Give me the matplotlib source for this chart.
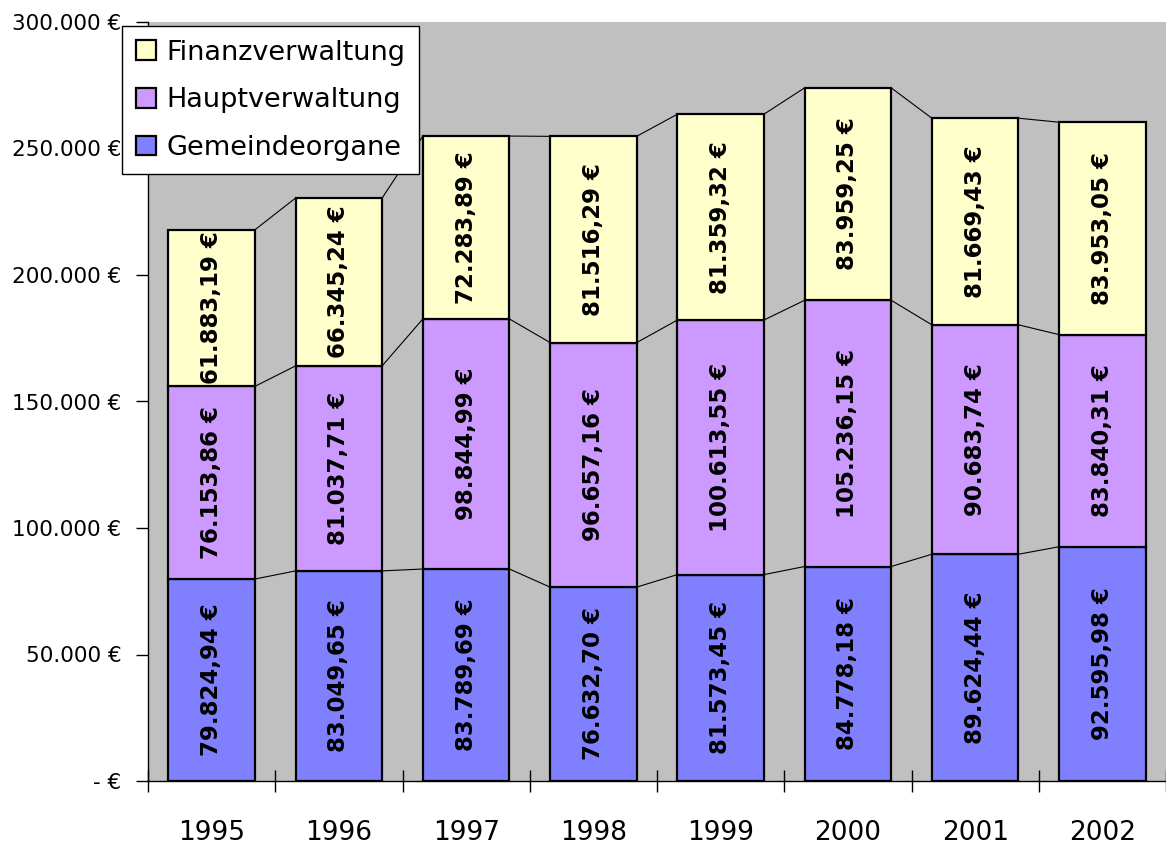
import matplotlib
matplotlib.use('Agg')
import matplotlib.pyplot as plt
import numpy as np

years = ['1995', '1996', '1997', '1998', '1999', '2000', '2001', '2002']
gemeindeorgane = [79824.94, 83049.65, 83789.69, 76632.70, 81573.45, 84778.18, 89624.44, 92595.98]
hauptverwaltung = [76153.86, 81037.71, 98844.99, 96657.16, 100613.55, 105236.15, 90683.74, 83840.31]
finanzverwaltung = [61883.19, 66345.24, 72283.89, 81516.29, 81359.32, 83959.25, 81669.43, 83953.05]

series = [('Gemeindeorgane', gemeindeorgane, '#8080FF'),
          ('Hauptverwaltung', hauptverwaltung, '#CC99FF'),
          ('Finanzverwaltung', finanzverwaltung, '#FFFFCC')]


def euro(v):
    s = '{:,.2f}'.format(v)
    s = s.replace(',', 'X').replace('.', ',').replace('X', '.')
    return s + ' €'


def axis_euro(v, pos=None):
    if v == 0:
        return '- €'
    return '{:,.0f}'.format(v).replace(',', '.') + ' €'


fig = plt.figure(figsize=(11.66, 8.47), dpi=100)
ax = fig.add_axes([148 / 1166, 66 / 847, 1 - 148 / 1166, (781 - 22) / 847])
ax.set_facecolor('#C0C0C0')

x = np.arange(len(years))
width = 0.68
bottom = np.zeros(len(years))
handles = []
for name, vals, col in series:
    vals = np.array(vals)
    b = ax.bar(x, vals, width, bottom=bottom, color=col, edgecolor='black',
               linewidth=1.6, label=name, zorder=3)
    handles.append(b)
    for xi, v, bt in zip(x, vals, bottom):
        ax.text(xi, bt + v / 2, euro(v), rotation=90, ha='center', va='center',
                fontsize=16.5, fontweight='bold', zorder=4)
    top = bottom + vals
    # series lines between bars
    for i in range(len(years) - 1):
        ax.plot([x[i] + width / 2, x[i + 1] - width / 2], [top[i], top[i + 1]],
                color='black', linewidth=0.8, zorder=2)
    bottom = top

ax.set_xlim(-0.5, len(years) - 0.5)
ax.set_ylim(0, 300000)
ax.set_yticks(np.arange(0, 300001, 50000))
ax.yaxis.set_major_formatter(matplotlib.ticker.FuncFormatter(axis_euro))
ax.set_xticks(np.arange(-0.5, len(years), 1.0))
ax.set_xticklabels([])
ax.set_xticks(x, minor=True)
ax.set_xticklabels(years, minor=True, fontsize=19)
ax.tick_params(axis='x', which='minor', length=0, pad=28)
ax.tick_params(axis='x', which='major', direction='inout', length=16, width=1)
ax.tick_params(axis='y', direction='out', length=9, width=1, labelsize=15.5, pad=10)

for s in ['top', 'right']:
    ax.spines[s].set_visible(False)
ax.spines['left'].set_linewidth(1)
ax.spines['bottom'].set_linewidth(1)

leg = ax.legend(handles[::-1], [s[0] for s in series][::-1], loc='upper left',
                bbox_to_anchor=(122 / 1166, 1 - 26 / 847),
                bbox_transform=fig.transFigure, fontsize=19.5, frameon=True,
                fancybox=False, edgecolor='black', framealpha=1,
                handlelength=0.75, handleheight=0.75, handletextpad=0.4,
                borderpad=0.5, labelspacing=0.8, borderaxespad=0)
leg.get_frame().set_linewidth(1)
leg.set_zorder(10)

fig.savefig('out.png', dpi=100)
